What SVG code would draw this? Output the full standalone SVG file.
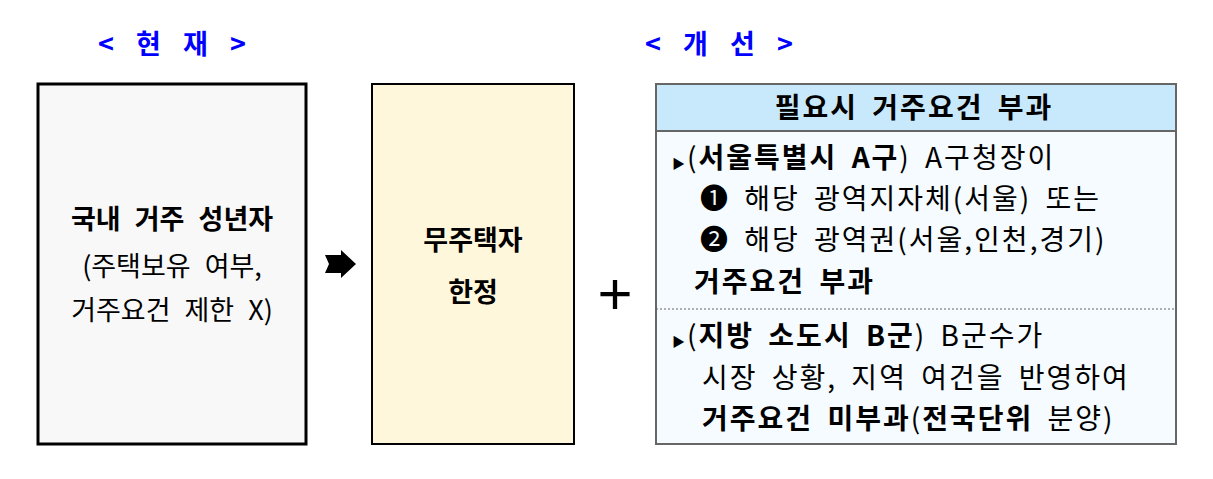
<svg xmlns="http://www.w3.org/2000/svg" width="1213" height="479" viewBox="0 0 1213 479">
<style>
text{font-family:"Noto Sans CJK KR","Noto Sans",sans-serif;fill:#000}
.t{font-size:27px;word-spacing:8px}
.r{font-size:28px;letter-spacing:2px;word-spacing:6px}
.b{font-weight:bold}
.h{font-size:27px;font-weight:bold;fill:#0000ff;word-spacing:16px}
</style>
<rect width="1213" height="479" fill="#fff"/>
<text class="h" x="172" y="54" text-anchor="middle" xml:space="preserve">&lt; 현 재 &gt;</text>
<text class="h" x="719" y="54" text-anchor="middle" xml:space="preserve">&lt; 개 선 &gt;</text>
<g id="node-current">
<rect x="38" y="84" width="268" height="360" fill="#f8f8f8" stroke="#000" stroke-width="3"/>
<text class="t b" x="172" y="229" text-anchor="middle">국내 거주 성년자</text>
<text class="t" x="172" y="276" text-anchor="middle">(주택보유 여부,</text>
<text class="t" x="172" y="320" text-anchor="middle">거주요건 제한 X)</text>
</g>
<g id="node-nohouse">
<rect x="372" y="84" width="202" height="360" fill="#fff7dc" stroke="#000" stroke-width="2"/>
<text class="t b" x="473" y="250" text-anchor="middle">무주택자</text>
<text class="t b" x="473" y="302" text-anchor="middle">한정</text>
</g>
<g id="connectors">
<path d="M325,255 L341,255 L341,250 L356,264 L341,278 L341,273 L325,273 L329,264 Z" fill="#000"/>
<text x="615" y="314" font-size="60" text-anchor="middle" style="font-family:'Liberation Sans',sans-serif">+</text>
</g>
<g id="node-improve">
<rect x="656" y="84" width="520" height="360" fill="#f5fbfe" stroke="#666" stroke-width="2"/>
<rect x="656" y="84" width="520" height="47" fill="#c8e9fb" stroke="#666" stroke-width="2"/>
<line x1="656" y1="309" x2="1176" y2="309" stroke="#666" stroke-width="1" stroke-dasharray="2,2"/>
<text class="r b" x="914" y="118" text-anchor="middle">필요시 거주요건 부과</text>
<text class="r" x="672" y="168"><tspan font-size="13">▶</tspan>(<tspan class="b">서울특별시 A구</tspan>) A구청장이</text>
<text class="r" x="700" y="209">❶ 해당 광역지자체(서울) 또는</text>
<text class="r" x="700" y="250">❷ 해당 광역권(서울,인천,경기)</text>
<text class="r b" x="694" y="292">거주요건 부과</text>
<text class="r" x="672" y="346"><tspan font-size="13">▶</tspan>(<tspan class="b">지방 소도시 B군</tspan>) B군수가</text>
<text class="r" x="702" y="388">시장 상황, 지역 여건을 반영하여</text>
<text class="r" x="702" y="429"><tspan class="b">거주요건 미부과</tspan>(<tspan class="b">전국단위</tspan> 분양)</text>
</g>
</svg>
